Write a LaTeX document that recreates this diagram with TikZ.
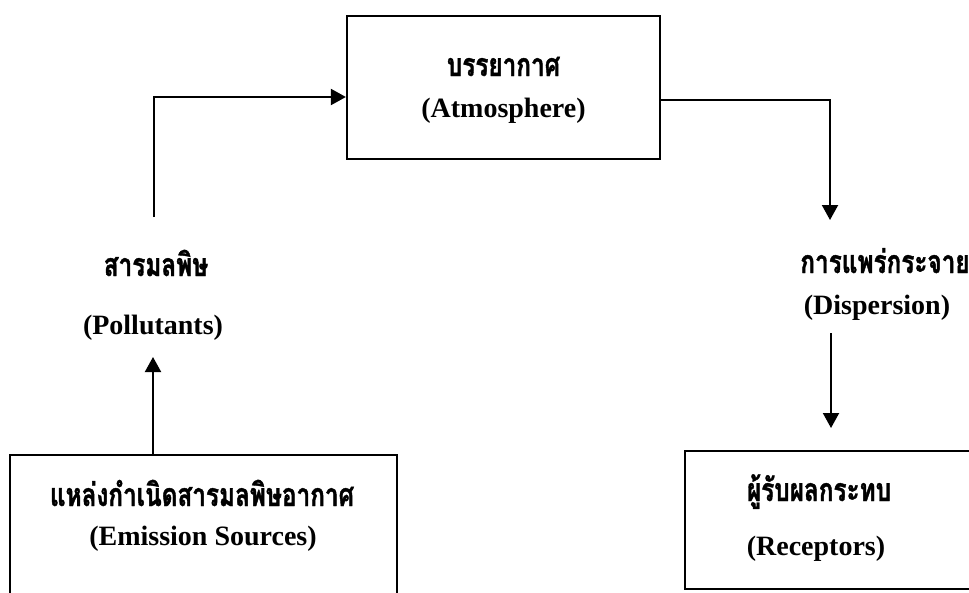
\documentclass[tikz,border=0pt]{standalone}
\usepackage{fontspec}
\setmainfont{Liberation Serif}
\newfontfamily\thai[Script=Thai,FakeStretch=0.76,BoldFeatures={FakeBold=1.2}]{Loma}
\usetikzlibrary{arrows.meta,calc}
\tikzset{
  boxst/.style={draw,line width=2.2pt,inner sep=0pt},
  en/.style={font=\fontsize{28}{30}\selectfont\bfseries,inner sep=0pt},
  th/.style={font=\thai\fontsize{32}{34}\selectfont\bfseries,inner sep=0pt,anchor=base},
  arr/.style={line width=2pt,-{Triangle[length=15pt,width=16pt]}},
}
\begin{document}
\begin{tikzpicture}[x=1pt,y=-1pt]
\clip (0,0) rectangle (969,592);
\fill[white] (0,0) rectangle (969,592);
% boxes
\node[boxst,minimum width=313pt,minimum height=143pt] (atm) at (503.5,87.5) {};
\node[boxst,minimum width=387pt,minimum height=160pt] (emis) at (203.5,535) {};
\node[boxst,minimum width=300pt,minimum height=138pt] (rec) at (835,520) {};
% texts
\node[th] (atmTH) at (503.5,76) {บรรยากาศ};
\node[en] (atmEN) at (503.5,111) {(Atmosphere)};
\node[th] (polTH) at (156,276) {สารมลพิษ};
\node[en] (polEN) at (153,328) {(Pollutants)};
\node[th] (disTH) at (885,273) {การแพร่กระจาย};
\node[en] (disEN) at (877,308) {(Dispersion)};
\node[th] (emisTH) at (202,506) {แหล่งกำเนิดสารมลพิษอากาศ};
\node[en] (emisEN) at (203,539) {(Emission Sources)};
\node[th] (recTH) at (819,501) {ผู้รับผลกระทบ};
\node[en] (recEN) at (816,549) {(Receptors)};
% connector ends
\coordinate (p1) at (154,217);
\coordinate (p2) at (830,220);
\coordinate (p3) at (831,333);
\coordinate (p4) at (831,428);
\coordinate (p5) at (153,357);
% connectors
\draw[arr] (emis.north -| p5) -- (p5);
\draw[arr] (p1) |- ([yshift=-9.5pt]atm.west);
\draw[arr] ([yshift=-12.5pt]atm.east) -| (p2);
\draw[arr] (p3) -- (p4);
\end{tikzpicture}
\end{document}
